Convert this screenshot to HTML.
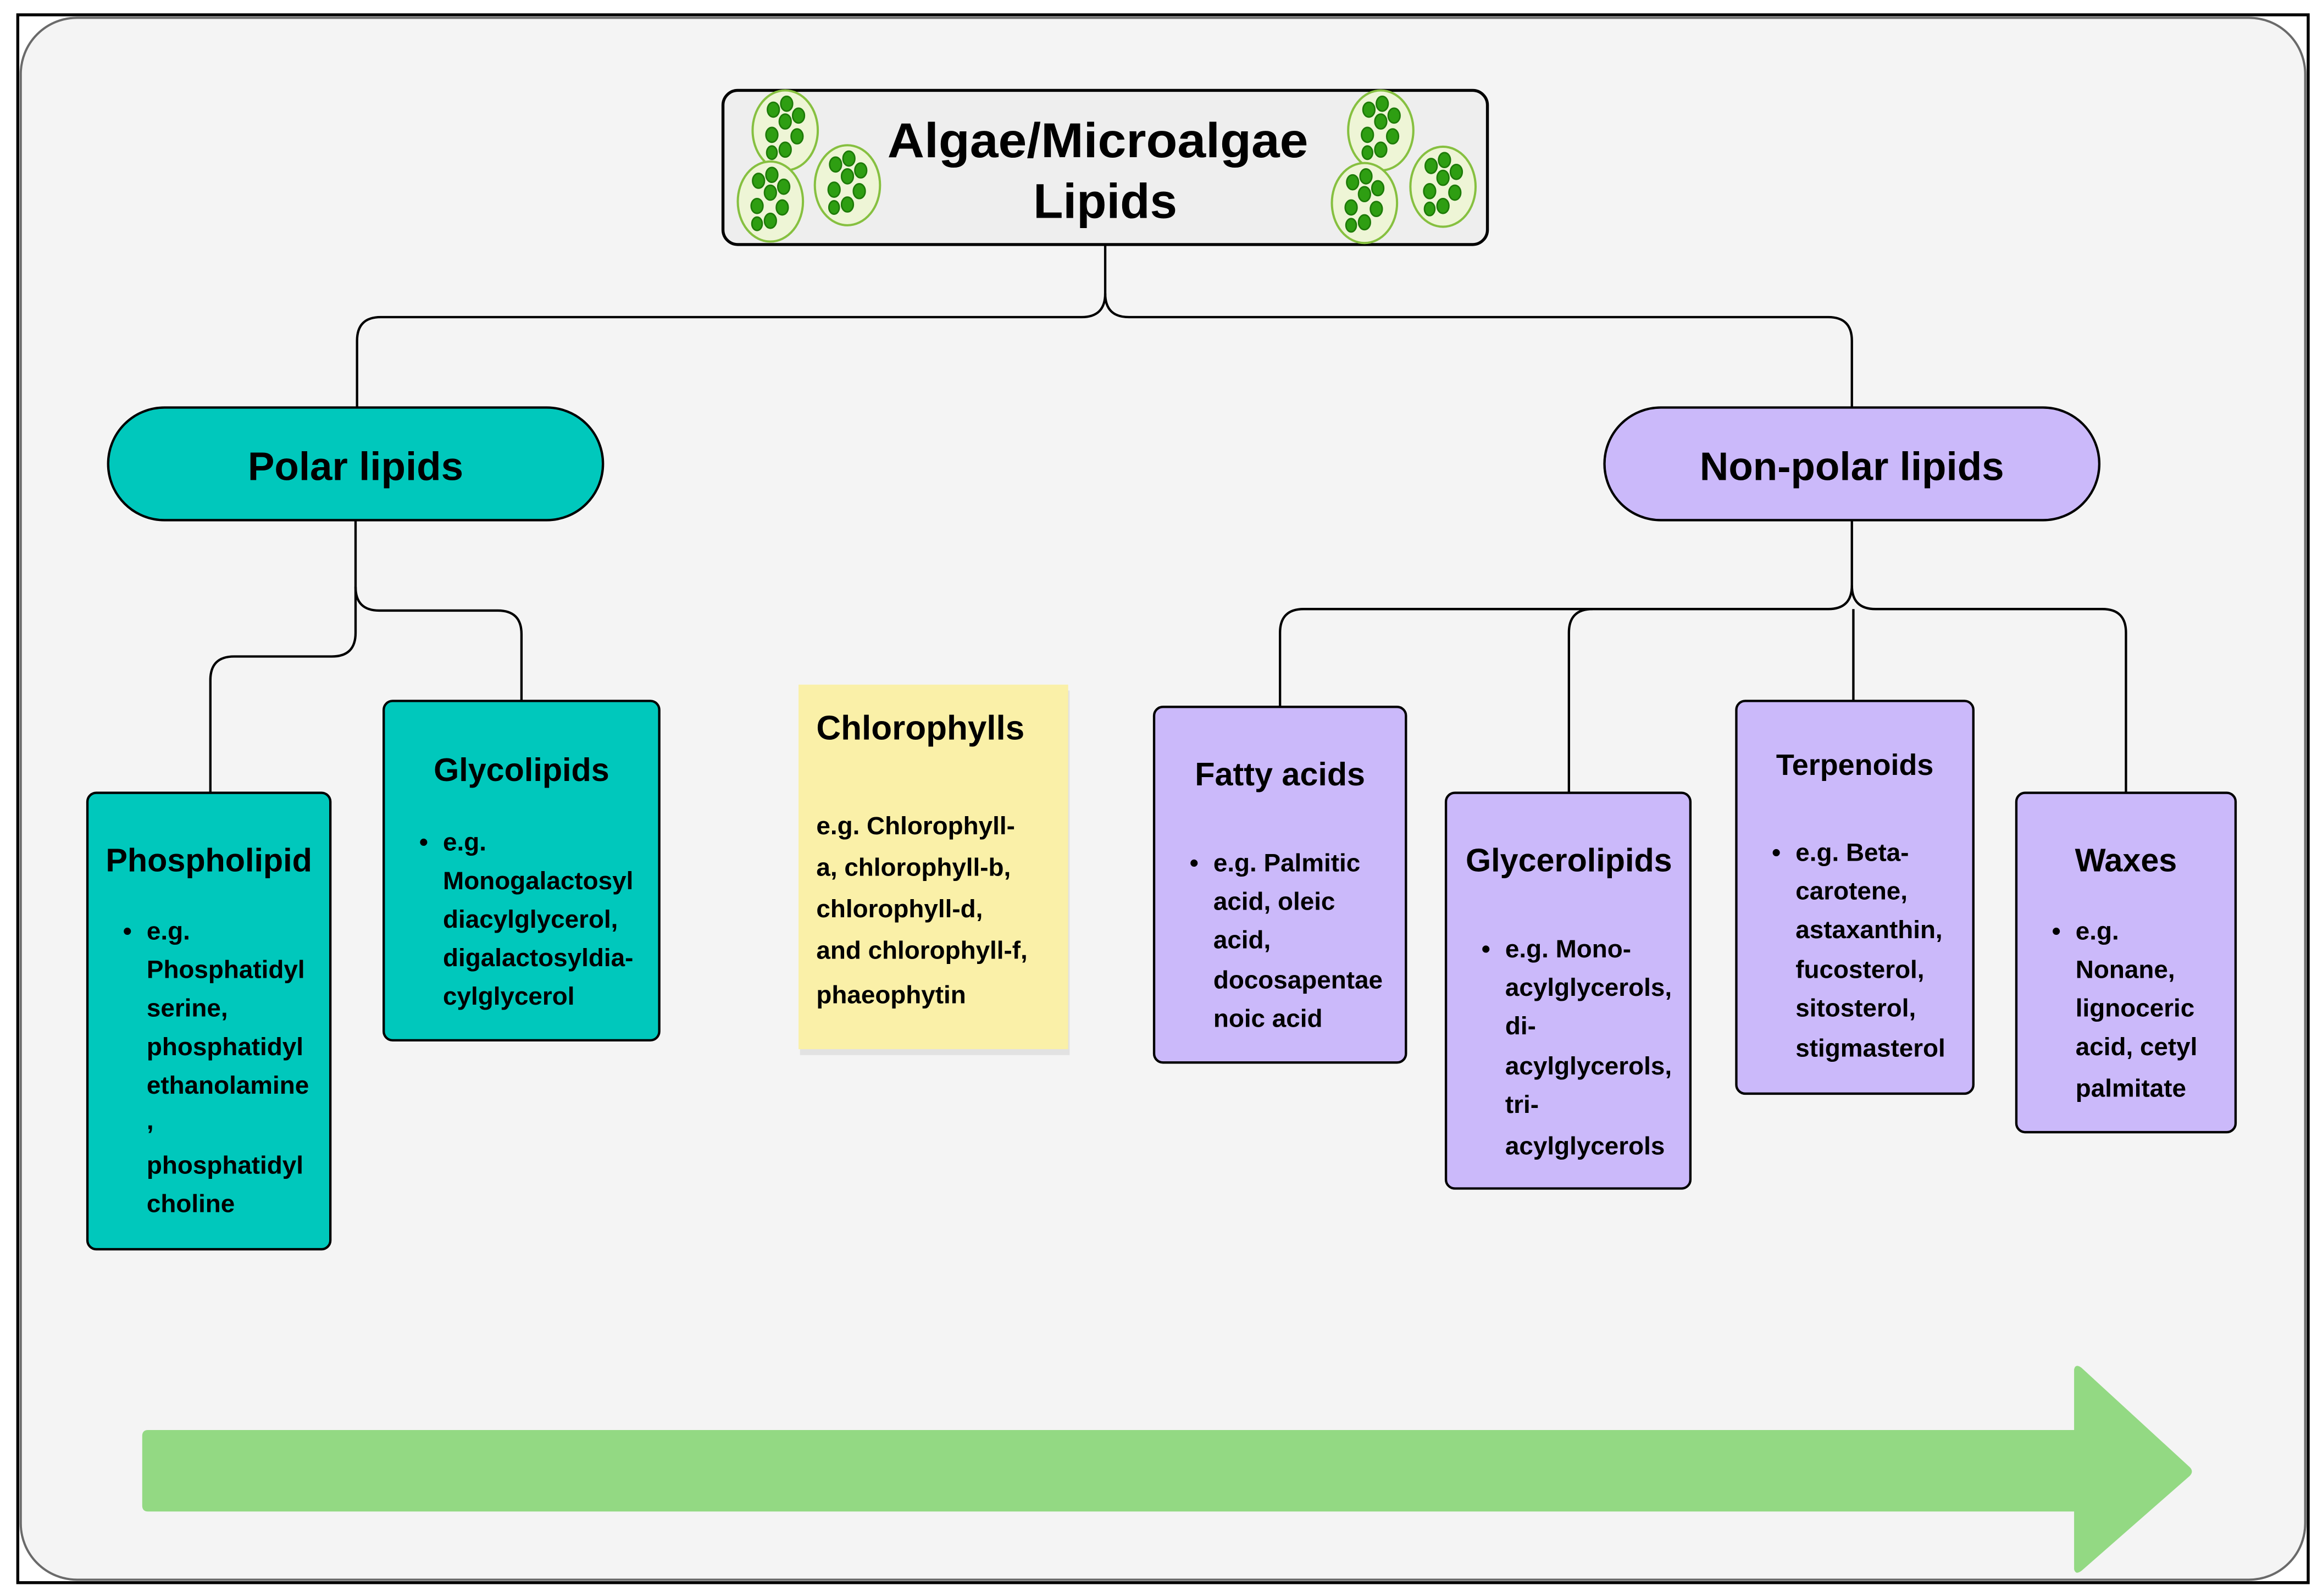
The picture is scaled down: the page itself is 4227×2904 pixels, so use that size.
<!DOCTYPE html>
<html><head><meta charset="utf-8"><style>
html,body{margin:0;padding:0;background:#fff;}
svg{display:block;}
text{font-family:"Liberation Sans",sans-serif;font-weight:bold;fill:#000;}
</style></head><body>
<svg width="4227" height="2904" viewBox="0 0 1568 1077" preserveAspectRatio="none" xmlns="http://www.w3.org/2000/svg">
<defs>
<g id="cell">
<ellipse cx="0" cy="0" rx="22" ry="27" fill="#eef5d6" stroke="#86c040" stroke-width="1.5"/>
<ellipse cx="-8" cy="-14" rx="4" ry="5" fill="#2e9e12" stroke="#1d7a08" stroke-width="1"/>
<ellipse cx="1" cy="-18" rx="4" ry="5" fill="#2e9e12" stroke="#1d7a08" stroke-width="1"/>
<ellipse cx="9" cy="-10" rx="4" ry="5" fill="#2e9e12" stroke="#1d7a08" stroke-width="1"/>
<ellipse cx="0" cy="-6" rx="4" ry="5" fill="#2e9e12" stroke="#1d7a08" stroke-width="1"/>
<ellipse cx="-9" cy="3" rx="4" ry="5" fill="#2e9e12" stroke="#1d7a08" stroke-width="1"/>
<ellipse cx="8" cy="4" rx="4" ry="5" fill="#2e9e12" stroke="#1d7a08" stroke-width="1"/>
<ellipse cx="0" cy="13" rx="4" ry="5" fill="#2e9e12" stroke="#1d7a08" stroke-width="1"/>
<ellipse cx="-9" cy="15" rx="3.5" ry="4.5" fill="#2e9e12" stroke="#1d7a08" stroke-width="1"/>
</g>
</defs>
<rect x="0" y="0" width="1568" height="1077" fill="#fff"/>
<rect x="12" y="10" width="1546" height="1058" fill="none" stroke="#000" stroke-width="2"/>
<rect x="14" y="12" width="1542" height="1054" rx="38" fill="#f4f4f4" stroke="#6a6a6a" stroke-width="1.5"/>

<!-- connectors -->
<g fill="none" stroke="#000" stroke-width="1.6">
<path d="M746 165 V198 Q746 214 730 214 H257 Q241 214 241 230 V275"/>
<path d="M746 198 Q746 214 762 214 H1234 Q1250 214 1250 230 V275"/>
<path d="M240 351 V427 Q240 443 224 443 H158 Q142 443 142 459 V535"/>
<path d="M240 396 Q240 412 256 412 H336 Q352 412 352 428 V473"/>
<path d="M1250 351 V395 Q1250 411 1234 411 H880 Q864 411 864 427 V477"/>
<path d="M1250 395 Q1250 411 1266 411 H1419 Q1435 411 1435 427 V535"/>
<path d="M1075 411 Q1059 411 1059 427 V535"/>
<path d="M1251 411 V473"/>
</g>

<!-- title -->
<rect x="488" y="61" width="516" height="104" rx="10" fill="#eeeeee" stroke="#000" stroke-width="2"/>
<use href="#cell" x="530" y="88"/>
<use href="#cell" x="520" y="136"/>
<use href="#cell" x="572" y="125"/>
<use href="#cell" x="932" y="88"/>
<use href="#cell" x="921" y="137"/>
<use href="#cell" x="974" y="126"/>
<text x="741" y="106" font-size="33" text-anchor="middle" textLength="284" lengthAdjust="spacingAndGlyphs">Algae/Microalgae</text>
<text x="746" y="147" font-size="33" text-anchor="middle">Lipids</text>

<!-- pills -->
<rect x="73" y="275" width="334" height="76" rx="38" fill="#00c8bc" stroke="#000" stroke-width="1.6"/>
<text x="240" y="324" font-size="27" text-anchor="middle">Polar lipids</text>
<rect x="1083" y="275" width="334" height="76" rx="38" fill="#cbb9fa" stroke="#000" stroke-width="1.6"/>
<text x="1250" y="324" font-size="27" text-anchor="middle">Non-polar lipids</text>

<!-- boxes -->
<g stroke="#000" stroke-width="1.6">
<rect x="59" y="535" width="164" height="308" rx="6" fill="#00c8bc"/>
<rect x="259" y="473" width="186" height="229" rx="6" fill="#00c8bc"/>
<rect x="779" y="477" width="170" height="240" rx="6" fill="#cbb9fa"/>
<rect x="976" y="535" width="165" height="267" rx="6" fill="#cbb9fa"/>
<rect x="1172" y="473" width="160" height="265" rx="6" fill="#cbb9fa"/>
<rect x="1361" y="535" width="148" height="229" rx="6" fill="#cbb9fa"/>
</g>
<rect x="540" y="466" width="182" height="246" fill="#e2e2e2"/>
<rect x="539" y="462" width="182" height="246" fill="#faf0a8"/>

<g font-size="17">
<text x="141" y="588" font-size="22" text-anchor="middle">Phospholipid</text>
<text x="83" y="634">•</text>
<text x="99" y="634">e.g.</text>
<text x="99" y="660">Phosphatidyl</text>
<text x="99" y="686">serine,</text>
<text x="99" y="712">phosphatidyl</text>
<text x="99" y="738">ethanolamine</text>
<text x="99" y="762">,</text>
<text x="99" y="792">phosphatidyl</text>
<text x="99" y="818">choline</text>

<text x="352" y="527" font-size="22" text-anchor="middle">Glycolipids</text>
<text x="283" y="574">•</text>
<text x="299" y="574">e.g.</text>
<text x="299" y="600">Monogalactosyl</text>
<text x="299" y="626">diacylglycerol,</text>
<text x="299" y="652">digalactosyldia-</text>
<text x="299" y="678">cylglycerol</text>

<text x="551" y="499" font-size="23" font-weight="normal" style="font-weight:600">Chlorophylls</text>
<text x="551" y="563">e.g. Chlorophyll-</text>
<text x="551" y="591">a, chlorophyll-b,</text>
<text x="551" y="619">chlorophyll-d,</text>
<text x="551" y="647">and chlorophyll-f,</text>
<text x="551" y="677">phaeophytin</text>

<text x="864" y="530" font-size="22" text-anchor="middle">Fatty acids</text>
<text x="803" y="588">•</text>
<text x="819" y="588">e.g. Palmitic</text>
<text x="819" y="614">acid, oleic</text>
<text x="819" y="640">acid,</text>
<text x="819" y="667">docosapentae</text>
<text x="819" y="693">noic acid</text>

<text x="1059" y="588" font-size="22" text-anchor="middle">Glycerolipids</text>
<text x="1000" y="646">•</text>
<text x="1016" y="646">e.g. Mono-</text>
<text x="1016" y="672">acylglycerols,</text>
<text x="1016" y="698">di-</text>
<text x="1016" y="725">acylglycerols,</text>
<text x="1016" y="751">tri-</text>
<text x="1016" y="779">acylglycerols</text>

<text x="1252" y="523" font-size="20" text-anchor="middle">Terpenoids</text>
<text x="1196" y="581">•</text>
<text x="1212" y="581">e.g. Beta-</text>
<text x="1212" y="607">carotene,</text>
<text x="1212" y="633">astaxanthin,</text>
<text x="1212" y="660">fucosterol,</text>
<text x="1212" y="686">sitosterol,</text>
<text x="1212" y="713">stigmasterol</text>

<text x="1435" y="588" font-size="22" text-anchor="middle">Waxes</text>
<text x="1385" y="634">•</text>
<text x="1401" y="634">e.g.</text>
<text x="1401" y="660">Nonane,</text>
<text x="1401" y="686">lignoceric</text>
<text x="1401" y="712">acid, cetyl</text>
<text x="1401" y="740">palmitate</text>
</g>

<!-- arrow -->
<path d="M100 965 H1400 V924 Q1401 920 1405 923 L1478 990 Q1481 993 1478 996 L1405 1060 Q1401 1063 1400 1059 V1020 H100 Q96 1020 96 1016 V969 Q96 965 100 965 Z" fill="#93d983"/>
</svg>
</body></html>
